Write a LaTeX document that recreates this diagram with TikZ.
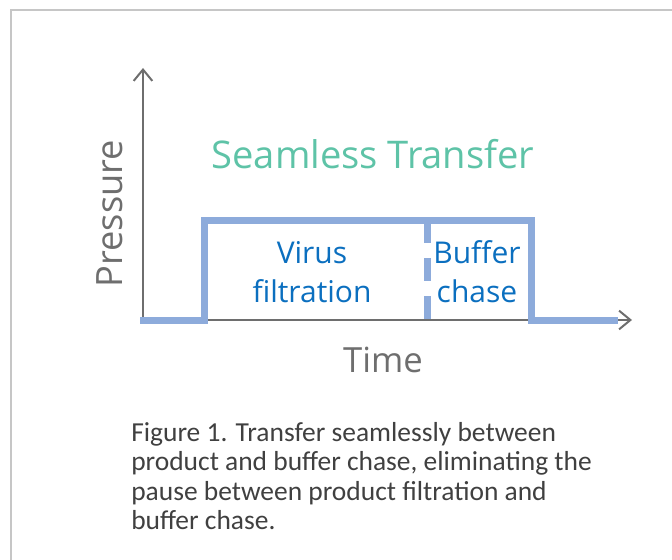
\documentclass[tikz,border=0pt]{standalone}
\usepackage{fontspec}
\setmainfont{Open Sans}
\newfontfamily\capfont{Carlito}
\usetikzlibrary{arrows.meta}
\definecolor{framegray}{HTML}{C6C6C6}
\definecolor{axisgray}{HTML}{6E6E6E}
\definecolor{pulseblue}{HTML}{8DABDB}
\definecolor{labelblue}{HTML}{0B6FBF}
\definecolor{teal}{HTML}{5EC3A7}
\definecolor{capgray}{HTML}{404040}
\begin{document}
\begin{tikzpicture}[x=0.75pt,y=-0.75pt,
  axisline/.style={draw=axisgray,line width=1.5pt,-{Straight Barb[length=8.5pt,width=14pt,line width=1.5pt]}},
  pulseline/.style={draw=pulseblue,line width=5.25pt,line join=miter},
  bigtxt/.style={font=\fontsize{26}{30}\selectfont,text=axisgray,inner sep=0pt},
  phasetxt/.style={font=\fontsize{22.5}{28}\selectfont,text=labelblue,inner sep=0pt},
  captxt/.style={font=\capfont\fontsize{20.6}{24}\selectfont,text=capgray,inner sep=0pt,anchor=base west}]
\useasboundingbox (0,0) rectangle (672,560);
\draw[framegray,line width=1.2pt] (11,10) rectangle (720,620);
% axes
\coordinate (origin) at (143,320);
\coordinate (ytop) at (143,68);
\coordinate (xend) at (632,320);
\draw[axisline] (origin) -- (ytop);
\draw[axisline] (origin) -- (xend);
% pulse
\coordinate (p0) at (140,320.5);
\coordinate (p1) at (204.5,320.5);
\coordinate (p2) at (204.5,220);
\coordinate (p3) at (531,220);
\coordinate (p4) at (531,320.5);
\coordinate (p5) at (618,320.5);
\draw[pulseline] (p0) -- (p1) -- (p2) -- (p3) -- (p4) -- (p5);
\coordinate (d0) at (427,220);
\coordinate (d1) at (427,321);
\draw[draw=pulseblue,line width=5.25pt,dash pattern=on 17pt off 11.5pt] (d0) -- (d1);
% labels
\node[bigtxt,text=teal,anchor=base,font=\fontsize{28.6}{32}\selectfont] (title) at (373,169) {Seamless Transfer};
\node[bigtxt,anchor=base] (time) at (383,372) {Time};
\node[bigtxt,anchor=base,rotate=90,font=\fontsize{27.2}{30}\selectfont] (pressure) at (122,213.5) {Pressure};
\node[phasetxt,anchor=base] (vir1) at (312,263) {Virus};
\node[phasetxt,anchor=base] (vir2) at (312,302) {filtration};
\node[phasetxt,anchor=base] (buf1) at (477,263) {Buffer};
\node[phasetxt,anchor=base] (buf2) at (477,302) {chase};
% caption
\node[captxt] (cap1) at (131,441) {Figure 1. Transfer seamlessly between};
\node[captxt] (cap2) at (131,470.5) {product and buffer chase, eliminating the};
\node[captxt] (cap3) at (131,500) {pause between product filtration and};
\node[captxt] (cap4) at (131,529.5) {buffer chase.};
\end{tikzpicture}
\end{document}
